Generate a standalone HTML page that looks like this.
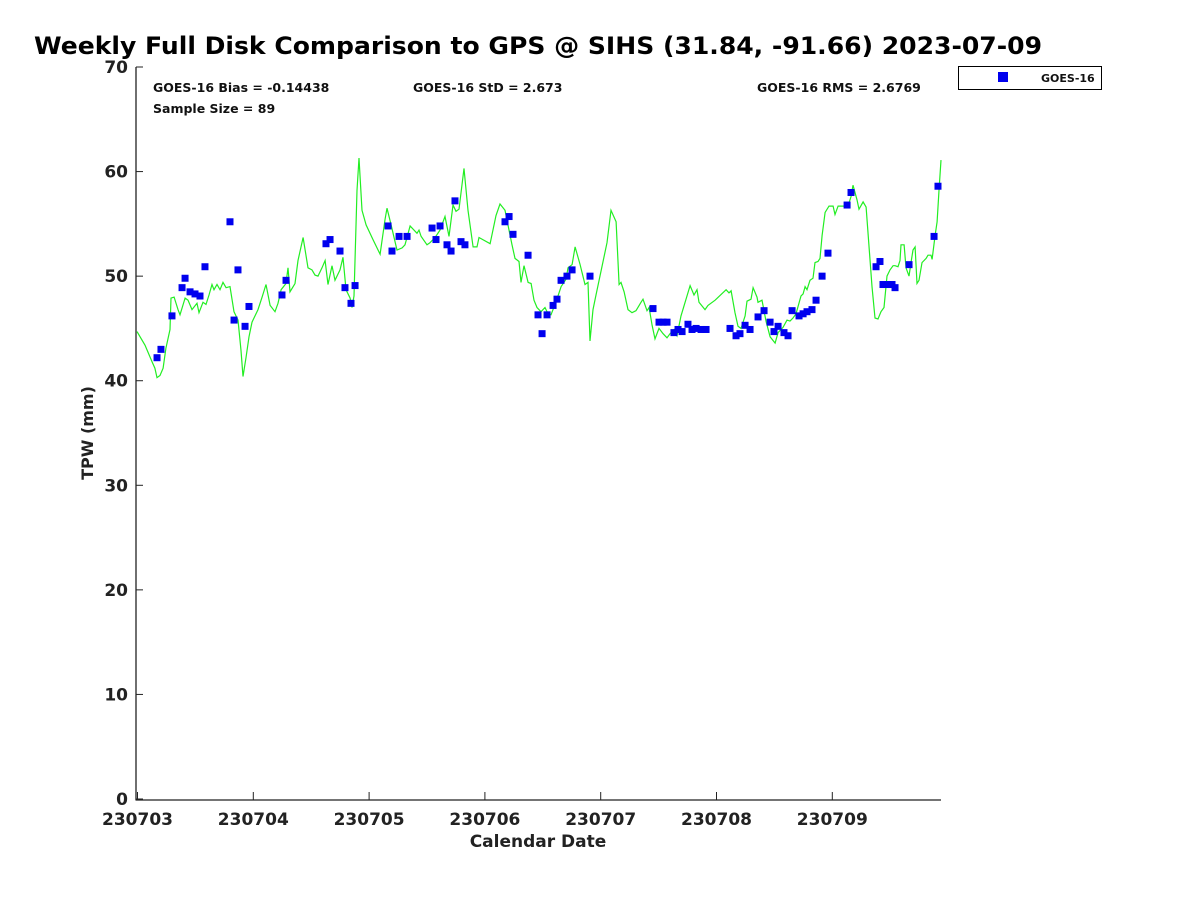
<!DOCTYPE html>
<html><head><meta charset="utf-8"><style>
html,body{margin:0;padding:0;background:#fff;}
svg{display:block;font-family:"DejaVu Sans","Liberation Sans",sans-serif;font-weight:bold;}
</style></head><body>
<svg id="chart" width="1200" height="900" viewBox="0 0 1200 900" xmlns="http://www.w3.org/2000/svg">
<rect width="1200" height="900" fill="#fff"/>
<text x="34" y="54" font-size="24" textLength="1008" lengthAdjust="spacingAndGlyphs" fill="#000">Weekly Full Disk Comparison to GPS @ SIHS (31.84, -91.66) 2023-07-09</text>
<g id="axes"></g>
<g id="series"></g>
<text x="153" y="92" font-size="12.5" fill="#111">GOES-16 Bias = -0.14438</text>
<text x="153" y="113" font-size="12.5" fill="#111">Sample Size = 89</text>
<text x="413" y="92" font-size="12.5" fill="#111">GOES-16 StD = 2.673</text>
<text x="757" y="92" font-size="12.5" fill="#111">GOES-16 RMS = 2.6769</text>
<g>
<rect x="958.5" y="66.5" width="143" height="23" fill="#fff" stroke="#000" stroke-width="1"/>
<rect x="998" y="72" width="10" height="10" fill="#0000ee"/>
<text x="1041" y="82" font-size="11" fill="#111">GOES-16</text>
</g>
<text x="538" y="847" font-size="17" text-anchor="middle" fill="#222">Calendar Date</text>
<text transform="translate(93,433) rotate(-90)" font-size="16" text-anchor="middle" fill="#222">TPW (mm)</text>
</svg>
<script>
const yTicks = [0,10,20,30,40,50,60,70];
const xTickLabels = ["230703","230704","230705","230706","230707","230708","230709"];
const xTickDays = [0,1,2,3,4,5,6];
const gpsDays = [0,0.069,0.130,0.155,0.173,0.199,0.225,0.250,0.285,0.294,0.320,0.354,0.371,0.415,0.440,0.475,0.518,0.535,0.570,0.596,0.622,0.648,0.665,0.691,0.717,0.743,0.769,0.803,0.838,0.872,0.898,0.915,0.941,0.967,0.993,1.045,1.080,1.114,1.149,1.192,1.218,1.244,1.287,1.304,1.321,1.364,1.390,1.434,1.477,1.511,1.537,1.563,1.598,1.624,1.649,1.684,1.710,1.753,1.779,1.805,1.840,1.857,1.874,1.900,1.917,1.943,1.978,2.038,2.099,2.142,2.159,2.194,2.245,2.289,2.314,2.358,2.418,2.435,2.453,2.504,2.530,2.574,2.617,2.660,2.694,2.729,2.755,2.781,2.824,2.858,2.902,2.936,2.953,3.049,3.100,3.135,3.178,3.238,3.264,3.299,3.316,3.342,3.377,3.403,3.428,3.454,3.489,3.523,3.549,3.575,3.610,3.636,3.662,3.705,3.722,3.757,3.783,3.826,3.869,3.895,3.912,3.938,3.964,4.059,4.093,4.137,4.163,4.180,4.206,4.240,4.275,4.309,4.352,4.370,4.404,4.422,4.448,4.473,4.508,4.543,4.577,4.603,4.637,4.663,4.698,4.776,4.810,4.836,4.853,4.905,4.931,4.992,5.087,5.112,5.130,5.164,5.190,5.216,5.251,5.268,5.302,5.320,5.354,5.363,5.397,5.432,5.467,5.510,5.536,5.579,5.613,5.639,5.665,5.691,5.734,5.752,5.769,5.786,5.812,5.838,5.855,5.881,5.898,5.916,5.942,5.976,6.011,6.028,6.054,6.140,6.166,6.183,6.218,6.235,6.270,6.296,6.347,6.373,6.399,6.425,6.451,6.477,6.503,6.529,6.546,6.572,6.589,6.598,6.624,6.641,6.667,6.684,6.701,6.719,6.736,6.753,6.779,6.814,6.831,6.857,6.866,6.892,6.909,6.926,6.943];
const gpsValues = [44.7,43.4,41.8,41.2,40.3,40.5,41.2,43.1,44.9,47.9,48.0,46.8,46.3,47.9,47.7,46.8,47.4,46.5,47.5,47.3,48.2,49.2,48.7,49.2,48.7,49.4,48.9,49.0,46.6,45.8,42.9,40.4,42.2,44.2,45.6,46.8,48.0,49.2,47.2,46.6,47.4,48.7,49.3,50.8,48.5,49.3,51.5,53.7,50.8,50.6,50.1,50.0,50.8,51.5,49.2,51.0,49.6,50.6,51.8,48.7,47.9,47.0,48.1,58.2,61.3,56.3,54.9,53.5,52.1,55.4,56.5,54.9,52.5,52.7,53.0,54.8,54.1,54.4,53.8,53.0,53.2,53.7,54.4,55.7,53.8,56.8,56.2,56.4,60.3,56.3,52.8,52.8,53.7,53.1,55.8,56.9,56.3,53.0,51.7,51.4,49.4,51.0,49.4,49.3,47.7,47.0,46.6,47.0,46.4,46.3,47.3,48.1,49.0,49.7,50.8,51.1,52.8,51.1,49.2,49.4,43.8,46.8,48.2,53.2,56.3,55.2,49.2,49.4,48.5,46.8,46.5,46.7,47.5,47.8,46.7,47.0,45.3,44.0,45.0,44.5,44.1,44.5,44.9,44.3,46.2,49.1,48.2,48.7,47.5,46.8,47.2,47.7,48.7,48.4,48.6,46.5,45.2,45.0,46.2,47.6,47.8,48.9,48.0,47.5,47.7,45.7,44.2,43.6,44.6,45.1,45.8,45.7,46.0,46.4,48.1,48.3,49.0,48.7,49.6,49.8,51.3,51.4,51.7,53.9,56.1,56.7,56.7,55.9,56.7,56.7,57.6,58.7,57.3,56.4,57.1,56.6,49.0,46.0,45.9,46.6,47.0,50.0,50.6,51.0,51.0,50.9,51.5,53.0,53.0,50.8,50.0,51.3,52.5,52.8,49.3,49.6,51.3,51.7,52.0,52.0,51.6,53.9,55.2,58.2,61.1];
const goesDays = [0.173,0.207,0.302,0.389,0.415,0.458,0.501,0.544,0.587,0.803,0.838,0.872,0.933,0.967,1.252,1.287,1.632,1.667,1.753,1.796,1.848,1.883,2.168,2.202,2.263,2.332,2.548,2.582,2.617,2.677,2.712,2.746,2.798,2.832,3.178,3.213,3.247,3.377,3.463,3.498,3.541,3.593,3.627,3.662,3.713,3.757,3.912,4.456,4.508,4.543,4.577,4.637,4.672,4.707,4.758,4.793,4.828,4.871,4.914,5.121,5.173,5.207,5.251,5.294,5.363,5.415,5.467,5.501,5.536,5.587,5.622,5.657,5.717,5.752,5.786,5.829,5.864,5.916,5.967,6.132,6.166,6.382,6.416,6.442,6.485,6.520,6.546,6.667,6.883,6.917];
const goesValues = [42.2,43.0,46.2,48.9,49.8,48.5,48.3,48.1,50.9,55.2,45.8,50.6,45.2,47.1,48.2,49.6,53.1,53.5,52.4,48.9,47.4,49.1,54.8,52.4,53.8,53.8,54.6,53.5,54.8,53.0,52.4,57.2,53.3,53.0,55.2,55.7,54.0,52.0,46.3,44.5,46.3,47.2,47.8,49.6,50.0,50.6,50.0,46.9,45.6,45.6,45.6,44.6,44.9,44.7,45.4,44.9,45.0,44.9,44.9,45.0,44.3,44.5,45.3,44.9,46.1,46.7,45.6,44.7,45.2,44.6,44.3,46.7,46.2,46.4,46.6,46.8,47.7,50.0,52.2,56.8,58.0,50.9,51.4,49.2,49.2,49.2,48.9,51.1,53.8,58.6];

const NS='http://www.w3.org/2000/svg';
const X0=137, XPD=115.8, Y0=799, YPU=10.457;
function xs(d){return X0+d*XPD;}
function ys(v){return Y0-v*YPU;}
function mk(tag,attrs,parent){const e=document.createElementNS(NS,tag);for(const k in attrs)e.setAttribute(k,attrs[k]);parent.appendChild(e);return e;}
const axes=document.getElementById('axes');
const series=document.getElementById('series');
const yAxis=mk('line',{x1:136,y1:67,x2:136,y2:800,stroke:'#222','stroke-width':1.3},axes);


const xAxis=mk('line',{x1:135.5,y1:800,x2:941,y2:800,stroke:'#222','stroke-width':1.3},axes);


yTicks.forEach(v=>{
  const y=ys(v);
  const t=mk('line',{x1:136,y1:y,x2:143,y2:y,stroke:'#222','stroke-width':1},axes);
  
  
  const l=mk('text',{x:128,y:y+6,'font-size':17,'text-anchor':'end',fill:'#222'},axes);
  l.textContent=v;
  
  
});
xTickDays.forEach((d,i)=>{
  const x=xs(d)+0.5;
  const t=mk('line',{x1:x,y1:800,x2:x,y2:792,stroke:'#222','stroke-width':1},axes);
  
  
  const l=mk('text',{x:x,y:825,'font-size':17,'text-anchor':'middle',fill:'#222'},axes);
  l.textContent=xTickLabels[i];
  
  
});
const pts=gpsDays.map((d,i)=>xs(d).toFixed(1)+','+ys(gpsValues[i]).toFixed(1)).join(' ');
const line=mk('polyline',{points:pts,fill:'none',stroke:'#22ee22','stroke-width':1.2},series);


goesDays.forEach((d,i)=>{
  const r=mk('rect',{x:xs(d)-3.5,y:ys(goesValues[i])-3.5,width:7,height:7,fill:'#0000ee'},series);
  
  
});
</script>
</body></html>
